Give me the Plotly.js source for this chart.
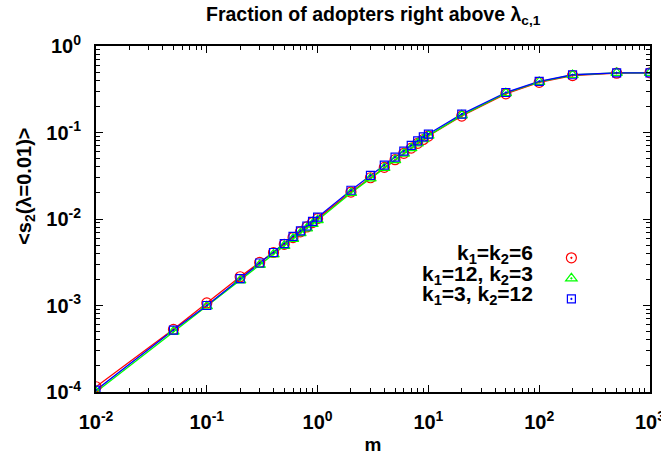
<!DOCTYPE html>
<html>
<head>
<meta charset="utf-8">
<script src="https://cdn.plot.ly/plotly-3.0.1.min.js"></script>
<style>html,body{margin:0;padding:0;background:#fff;}#chart{width:661px;height:458px;}</style>
</head>
<body>
<div id="chart"></div>
<script>
// m values (x)
var m = [0.01, 0.05, 0.1, 0.2, 0.3, 0.4, 0.5, 0.6, 0.7, 0.8, 0.9, 1, 2, 3, 4, 5, 6, 7, 8, 9, 10, 20, 50, 100, 200, 500, 1000];
// <s2(lambda=0.01)> for k1=k2=6
var s_k6_k6 = [1.15e-4, 5.3e-4, 1.07e-3, 2.15e-3, 3.15e-3, 4.1e-3, 5.1e-3, 6.1e-3, 7.1e-3, 8.1e-3, 9.1e-3, 1.01e-2, 2.05e-2, 3.0e-2, 3.95e-2, 4.85e-2, 5.75e-2, 6.6e-2, 7.5e-2, 8.3e-2, 9.1e-2, 0.155, 0.28, 0.38, 0.455, 0.485, 0.49];
// k1=12, k2=3
var s_k12_k3 = [1.0e-4, 5.0e-4, 9.8e-4, 1.95e-3, 2.95e-3, 3.9e-3, 4.9e-3, 5.9e-3, 6.85e-3, 7.8e-3, 8.75e-3, 9.7e-3, 2.0e-2, 2.95e-2, 3.9e-2, 4.8e-2, 5.7e-2, 6.6e-2, 7.5e-2, 8.35e-2, 9.2e-2, 0.158, 0.285, 0.385, 0.462, 0.49, 0.49];
// k1=3, k2=12
var s_k3_k12 = [1.05e-4, 5.2e-4, 1.0e-3, 2.05e-3, 3.1e-3, 4.1e-3, 5.2e-3, 6.3e-3, 7.3e-3, 8.3e-3, 9.4e-3, 1.05e-2, 2.15e-2, 3.2e-2, 4.2e-2, 5.2e-2, 6.1e-2, 7.1e-2, 8.0e-2, 8.9e-2, 9.6e-2, 0.163, 0.29, 0.39, 0.465, 0.49, 0.49];

var seriesNames = ['k<sub>1</sub>=k<sub>2</sub>=6', 'k<sub>1</sub>=12, k<sub>2</sub>=3', 'k<sub>1</sub>=3, k<sub>2</sub>=12'];
var seriesData = [s_k6_k6, s_k12_k3, s_k3_k12];
var seriesColors = ['#ff0000', '#00ff00', '#0000ff'];
var seriesSymbols = ['circle-open-dot', 'triangle-up-open-dot', 'square-open-dot'];
var seriesSizes = [10, 10, 8];

var xTickVals = [0.01, 0.1, 1, 10, 100, 1000];
var xTickText = ['10<sup>-2</sup>', '10<sup>-1</sup>', '10<sup>0</sup>', '10<sup>1</sup>', '10<sup>2</sup>', '10<sup>3</sup>'];
var yTickVals = [1e-4, 1e-3, 1e-2, 1e-1, 1];
var yTickText = ['10<sup>-4</sup>', '10<sup>-3</sup>', '10<sup>-2</sup>', '10<sup>-1</sup>', '10<sup>0</sup>'];

function minorVals(lo, hi) {
  var out = [];
  for (var e = lo; e < hi; e++) for (var d = 2; d <= 9; d++) out.push(d * Math.pow(10, e));
  return out;
}

var FONT = 'Liberation Sans, Arial, Helvetica, sans-serif';
var traces = [];
// lines
for (var i = 0; i < 3; i++) {
  traces.push({x: m, y: seriesData[i], mode: 'lines', showlegend: false,
    line: {color: seriesColors[i], width: 1.3}, hoverinfo: 'skip'});
}
// markers
for (var i = 0; i < 3; i++) {
  traces.push({x: m, y: seriesData[i], mode: 'markers', name: ' ',
    marker: {symbol: seriesSymbols[i], size: seriesSizes[i], color: seriesColors[i], line: {width: 1.2, color: seriesColors[i]}}});
}

var axBase = {
  type: 'log', showgrid: false, zeroline: false, showline: true, linecolor: '#000', linewidth: 2,
  mirror: 'ticks', ticks: 'inside', ticklen: 7, tickwidth: 1, tickcolor: '#000',
  tickmode: 'array', tickfont: {family: FONT, size: 20, color: '#000', weight: 'bold'},
  ticklabeloverflow: 'allow'
};
var xaxis = Object.assign({}, axBase, {
  range: [-2, 3], tickvals: xTickVals, ticktext: xTickText, ticklabelstandoff: 11,
  minor: {tickmode: 'array', tickvals: minorVals(-2, 3), ticks: 'inside', ticklen: 4, tickcolor: '#000', tickwidth: 1},
  title: {text: 'm', font: {family: FONT, size: 19, color: '#000', weight: 'bold'}, standoff: 6}
});
var yaxis = Object.assign({}, axBase, {
  range: [-4, 0], tickvals: yTickVals, ticktext: yTickText, ticklabelstandoff: 9,
  minor: {tickmode: 'array', tickvals: minorVals(-4, 0), ticks: 'inside', ticklen: 4, tickcolor: '#000', tickwidth: 1}
});

var annotations = [];
var legendY = [0.399, 0.339, 0.280];
for (var i = 0; i < 3; i++) {
  annotations.push({xref: 'paper', yref: 'paper', x: 0.793, y: legendY[i], xanchor: 'right', yanchor: 'middle',
    text: seriesNames[i], showarrow: false, font: {family: FONT, size: 21, color: '#000', weight: 'bold'}});
}
// y-axis title (placed as in the reference, above the axis centre)
annotations.push({xref: 'paper', yref: 'paper', x: 0, xshift: -70, y: 0.593, xanchor: 'center', yanchor: 'middle',
  textangle: -90, text: '<s<sub>2</sub>(λ=0.01)>', showarrow: false,
  font: {family: FONT, size: 20, color: '#000', weight: 'bold'}});
// chart title, centred over the plot area
annotations.push({xref: 'paper', yref: 'paper', x: 0.5, y: 1, yshift: 31, xanchor: 'center', yanchor: 'middle',
  text: 'Fraction of adopters right above λ<sub>c,1</sub>', showarrow: false,
  font: {family: FONT, size: 19.5, color: '#000', weight: 'bold'}});

var layout = {
  width: 661, height: 458,
  margin: {l: 96, r: 11, t: 46, b: 66},
  paper_bgcolor: '#fff', plot_bgcolor: '#fff',
  xaxis: xaxis, yaxis: yaxis,
  showlegend: true,
  legend: {x: 0.822, y: 0.432, xanchor: 'left', yanchor: 'top', bgcolor: 'rgba(0,0,0,0)',
    font: {family: FONT, size: 13.5}, tracegroupgap: 0, itemwidth: 30},
  annotations: annotations
};
Plotly.newPlot('chart', traces, layout, {displayModeBar: false, staticPlot: true});
</script>
</body>
</html>
